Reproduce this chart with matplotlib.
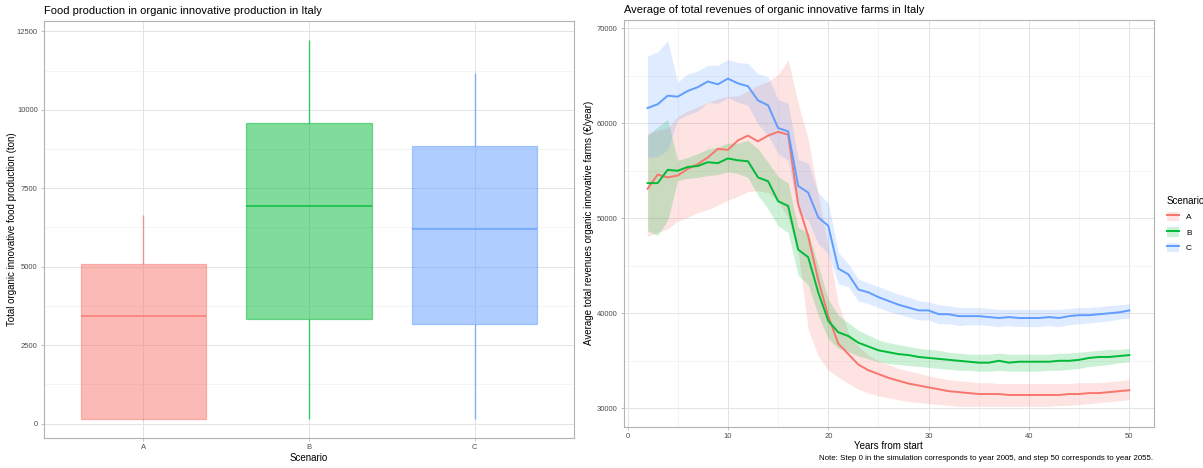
import matplotlib
matplotlib.use("Agg")
import matplotlib.pyplot as plt
from matplotlib.patches import Patch
from matplotlib.lines import Line2D
import numpy as np

plt.rcParams['font.family'] = ['Liberation Sans', 'DejaVu Sans']

# =========================
# DATA
# =========================
scenarios = ["A", "B", "C"]
colors = ["#F8766D", "#00BA38", "#619CFF"]

# boxplot summary for food production (ton)
box_low = [100, 150, 130]
box_q1 = [130, 3340, 3180]
box_med = [3430, 6920, 6190]
box_q3 = [5100, 9590, 8850]
box_high = [6650, 12230, 11180]

years = list(range(2, 51))

rev_a = [53100, 54600, 54300, 54500, 55200, 55700, 56400, 57300, 57200, 58200,
         58700, 58100, 58700, 59100, 58800, 51500, 48100, 43500, 39700, 36800,
         35700, 34600, 34000, 33600, 33200, 32900, 32600, 32400, 32200, 32000,
         31800, 31700, 31600, 31500, 31500, 31500, 31400, 31400, 31400, 31400,
         31400, 31400, 31500, 31500, 31600, 31600, 31700, 31800, 31900]
rev_a_hi = [58900, 59300, 59500, 60700, 61300, 61700, 62200, 62600, 62800, 62900,
            63400, 64000, 64400, 65100, 66700, 62100, 58300, 52500, 47000, 41000,
            38000, 36500, 35600, 35000, 34600, 34200, 33900, 33700, 33400, 33200,
            33000, 32900, 32800, 32700, 32700, 32600, 32600, 32600, 32600, 32600,
            32600, 32600, 32600, 32700, 32700, 32700, 32800, 32900, 33000]
rev_a_lo = [48100, 48500, 48900, 49700, 50100, 50600, 50900, 51400, 51900, 52300,
            52800, 52900, 52700, 51800, 50000, 46500, 38300, 35500, 34000, 33300,
            32600, 32000, 31600, 31300, 31100, 30900, 30700, 30600, 30500, 30400,
            30300, 30200, 30200, 30200, 30200, 30200, 30200, 30200, 30200, 30200,
            30200, 30300, 30300, 30400, 30500, 30600, 30700, 30800, 30900]

rev_b = [53700, 53700, 55100, 55000, 55400, 55500, 55900, 55800, 56300, 56100,
         56000, 54300, 53900, 51800, 51300, 46700, 45900, 42200, 39200, 38000,
         37600, 36900, 36500, 36100, 35900, 35700, 35600, 35400, 35300, 35200,
         35100, 35000, 34900, 34800, 34800, 35000, 34800, 34900, 34900, 34900,
         34900, 35000, 35000, 35100, 35300, 35400, 35400, 35500, 35600]
rev_b_hi = [58700, 59600, 60400, 56100, 56400, 56800, 57300, 57500, 57900, 57900,
            58200, 57300, 55900, 54400, 53700, 49000, 48500, 45000, 41500, 39800,
            39000, 38200, 37700, 37200, 36900, 36700, 36500, 36300, 36200, 36100,
            35900, 35800, 35700, 35700, 35700, 35800, 35700, 35700, 35700, 35700,
            35700, 35800, 35800, 35900, 36000, 36100, 36200, 36200, 36300]
rev_b_lo = [48700, 48200, 49800, 54000, 54200, 54300, 54500, 54600, 54900, 54700,
            54300, 52400, 51000, 49200, 48500, 44000, 43000, 39800, 37300, 36300,
            36000, 35500, 35200, 34900, 34700, 34600, 34500, 34400, 34300, 34200,
            34100, 34000, 34000, 33900, 33900, 34000, 33900, 33900, 33900, 33900,
            34000, 34000, 34100, 34200, 34400, 34500, 34600, 34800, 34900]

rev_c = [61600, 62000, 62900, 62800, 63400, 63800, 64400, 64100, 64700, 64200,
         63900, 62400, 61900, 59500, 59150, 53400, 52700, 50100, 49200, 44700,
         44100, 42500, 42200, 41700, 41300, 40900, 40600, 40300, 40300, 39900,
         39900, 39700, 39700, 39700, 39600, 39500, 39600, 39500, 39500, 39500,
         39600, 39500, 39700, 39800, 39800, 39900, 40000, 40100, 40300]
rev_c_hi = [67100, 67500, 68700, 64300, 65200, 65500, 66100, 66100, 66700, 66400,
            66300, 65200, 64900, 62500, 62100, 56200, 55800, 52700, 51600, 46400,
            45200, 43600, 43200, 42800, 42400, 42000, 41700, 41300, 41200, 40900,
            40800, 40600, 40600, 40600, 40500, 40400, 40400, 40400, 40400, 40400,
            40400, 40400, 40500, 40600, 40600, 40700, 40800, 40900, 41000]
rev_c_lo = [56400, 56500, 57200, 60400, 60900, 61300, 62200, 62100, 62700, 62200,
            61900, 59900, 58700, 56800, 56100, 50600, 49800, 47300, 46300, 43100,
            42800, 41300, 41000, 40600, 40200, 39900, 39600, 39300, 39300, 38900,
            38900, 38700, 38800, 38800, 38700, 38600, 38700, 38600, 38600, 38600,
            38700, 38600, 38800, 38900, 39000, 39100, 39200, 39400, 39500]

left_title = "Food production in organic innovative production in Italy"
right_title = "Average of total revenues of organic innovative farms in Italy"
note = "Note: Step 0 in the simulation corresponds to year 2005, and step 50 corresponds to year 2055."

# =========================
# STYLE HELPERS
# =========================
GRID = "#E3E3E3"
BORDER = "#B3B3B3"
TICKC = "#4D4D4D"


def style_axes(ax):
    for s in ax.spines.values():
        s.set_color(BORDER)
        s.set_linewidth(0.8)
    ax.tick_params(which="major", length=2.5, width=0.6, color=BORDER,
                   labelsize=5.5, labelcolor=TICKC, pad=2)
    ax.tick_params(which="minor", length=0)
    ax.grid(True, which="major", color=GRID, linewidth=0.7)
    ax.grid(True, which="minor", color="#EFEFEF", linewidth=0.45)
    ax.set_axisbelow(True)


fig = plt.figure(figsize=(12.03, 4.68), dpi=100)

# =========================
# LEFT: BOXPLOT
# =========================
ax1 = fig.add_axes([44 / 1203, 30 / 468, 530 / 1203, 417 / 468])
style_axes(ax1)

positions = [1, 2, 3]
for i, s in enumerate(scenarios):
    c = colors[i]
    # whiskers: low -> q1 and q3 -> high
    ax1.vlines([positions[i], positions[i]], [box_low[i], box_q3[i]], [box_q1[i], box_high[i]],
               colors=c, alpha=0.75, linewidth=1.0, zorder=2)
    st = {"label": s, "whislo": box_q1[i], "q1": box_q1[i],
          "med": box_med[i], "q3": box_q3[i], "whishi": box_q3[i]}
    ax1.bxp([st], positions=[positions[i]], widths=0.755, showfliers=False,
            showcaps=False, patch_artist=True,
            boxprops=dict(facecolor=c, alpha=0.5, edgecolor=c, linewidth=0.9),
            medianprops=dict(color=c, linewidth=1.1, alpha=0.9),
            whiskerprops=dict(linewidth=0))

ax1.set_xlim(0.4, 3.6)
ax1.set_ylim(-460, 12830)
ax1.set_yticks([0, 2500, 5000, 7500, 10000, 12500])
ax1.set_yticks([1250, 3750, 6250, 8750, 11250], minor=True)
ax1.set_xticks(positions)
ax1.set_xticklabels(scenarios)
ax1.set_xlabel("Scenario", fontsize=7, labelpad=1)
ax1.set_ylabel("Total organic innovative food production (ton)", fontsize=7, labelpad=0)
ax1.set_title(left_title, fontsize=8, loc="left", pad=5)

# =========================
# RIGHT: REVENUE LINES
# =========================
ax2 = fig.add_axes([623.5 / 1203, 41.3 / 468, 530 / 1203, 406.7 / 468])
style_axes(ax2)

series = [(rev_a, rev_a_lo, rev_a_hi), (rev_b, rev_b_lo, rev_b_hi), (rev_c, rev_c_lo, rev_c_hi)]
for i, (m, lo, hi) in enumerate(series):
    ax2.fill_between(years, lo, hi, color=colors[i], alpha=0.2, linewidth=0)
for i, (m, lo, hi) in enumerate(series):
    ax2.plot(years, m, color=colors[i], linewidth=1.4)

ax2.set_xlim(-0.4, 52.4)
ax2.set_ylim(28060, 70870)
ax2.set_xticks([0, 10, 20, 30, 40, 50])
ax2.set_xticks([5, 15, 25, 35, 45], minor=True)
ax2.set_yticks([30000, 40000, 50000, 60000, 70000])
ax2.set_yticks([35000, 45000, 55000, 65000], minor=True)
ax2.set_xlabel("Years from start", fontsize=7, labelpad=1)
ax2.set_ylabel("Average total revenues organic innovative farms (\u20ac/year)", fontsize=7, labelpad=2)
ax2.set_title(right_title, fontsize=8, loc="left", pad=5)

fig.text(1153 / 1203, 1 - 459 / 468, note, fontsize=5.7, ha="right", va="center")

handles = [(Patch(facecolor=c, alpha=0.2, edgecolor="none"), Line2D([], [], color=c, linewidth=1.4))
           for c in colors]
fig.legend(handles, scenarios, title="Scenario", loc="upper left",
           bbox_to_anchor=(1161 / 1203, 1 - 190 / 468), frameon=False,
           fontsize=6, title_fontsize=7, handlelength=1.5, handleheight=1.4,
           labelspacing=0.7, alignment="left", borderpad=0.2, handletextpad=0.8)

fig.savefig("out.png", dpi=100)
